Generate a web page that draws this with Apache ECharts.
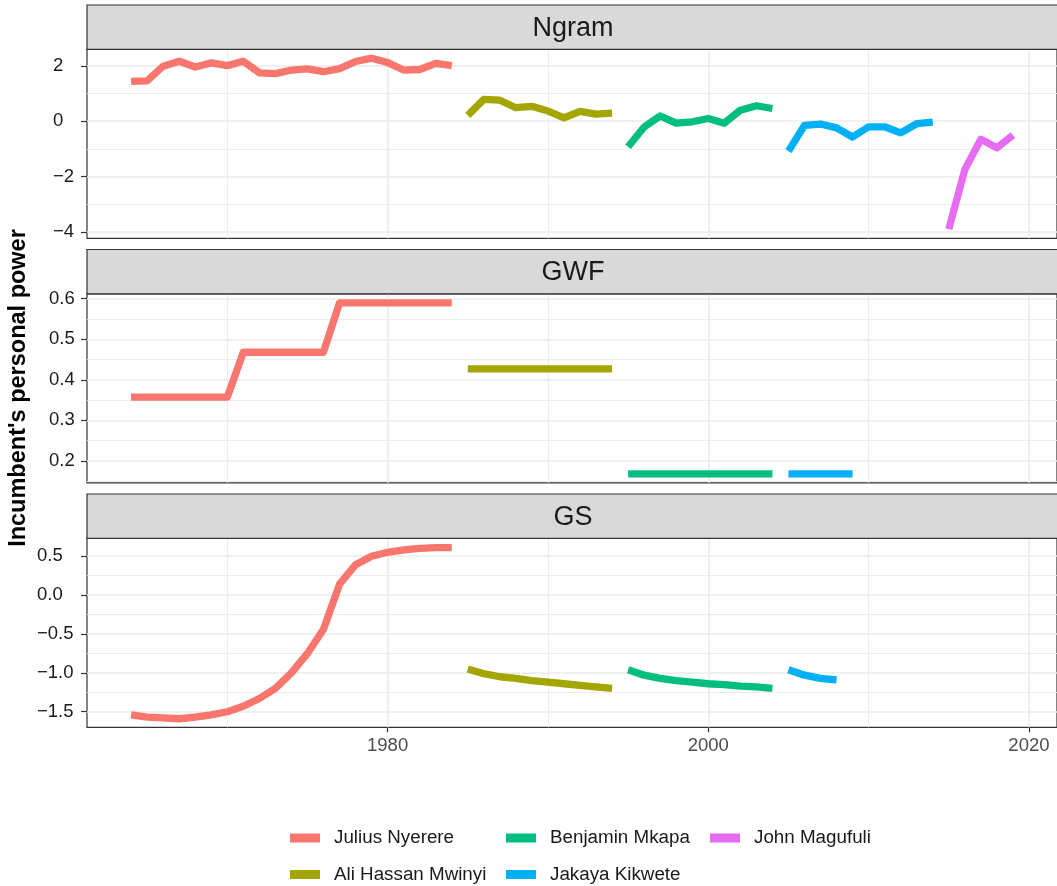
<!DOCTYPE html>
<html>
<head>
<meta charset="utf-8">
<script src="https://cdn.jsdelivr.net/npm/echarts@6/dist/echarts.min.js"></script>
<style>
  html, body { margin: 0; padding: 0; background: #ffffff; }
  #chart { width: 1057px; height: 886px; }
</style>
</head>
<body>
<div id="chart"></div>
<script>
// Presidents of Tanzania and their years in office
const presidents = ['Julius Nyerere', 'Ali Hassan Mwinyi', 'Benjamin Mkapa', 'Jakaya Kikwete', 'John Magufuli'];
const presidentColors = ['#F8766D', '#A3A500', '#00BF7D', '#00B0F6', '#E76BF3'];

const nyerereYears = [1964, 1965, 1966, 1967, 1968, 1969, 1970, 1971, 1972, 1973, 1974,
                      1975, 1976, 1977, 1978, 1979, 1980, 1981, 1982, 1983, 1984];
const mwinyiYears = [1985, 1986, 1987, 1988, 1989, 1990, 1991, 1992, 1993, 1994];
const mkapaYears = [1995, 1996, 1997, 1998, 1999, 2000, 2001, 2002, 2003, 2004];
const kikweteYears = [2005, 2006, 2007, 2008, 2009, 2010, 2011, 2012, 2013, 2014];
const magufuliYears = [2015, 2016, 2017, 2018, 2019];

// Ngram measure
const ngramNyerere = [1.44, 1.46, 1.99, 2.17, 1.96, 2.11, 2.01, 2.17, 1.75, 1.72, 1.85,
                      1.89, 1.79, 1.90, 2.16, 2.28, 2.12, 1.85, 1.87, 2.09, 2.01];
const ngramMwinyi = [0.21, 0.79, 0.76, 0.49, 0.54, 0.37, 0.12, 0.36, 0.26, 0.29];
const ngramMkapa = [-0.92, -0.21, 0.19, -0.07, -0.02, 0.10, -0.07, 0.40, 0.56, 0.46];
const ngramKikwete = [-1.08, -0.15, -0.10, -0.24, -0.57, -0.20, -0.20, -0.42, -0.09, -0.03];
const ngramMagufuli = [-3.90, -1.75, -0.65, -0.96, -0.50];

// GWF measure
const gwfNyerere = [0.357, 0.357, 0.357, 0.357, 0.357, 0.357, 0.357, 0.468, 0.468, 0.468, 0.468,
                    0.468, 0.468, 0.590, 0.590, 0.590, 0.590, 0.590, 0.590, 0.590, 0.590];
const gwfMwinyi = [0.427, 0.427, 0.427, 0.427, 0.427, 0.427, 0.427, 0.427, 0.427, 0.427];
const gwfMkapa = [0.168, 0.168, 0.168, 0.168, 0.168, 0.168, 0.168, 0.168, 0.168, 0.168];
const gwfKikwete = [0.168, 0.168, 0.168, 0.168, 0.168];

// GS measure
const gsNyerere = [-1.54, -1.57, -1.58, -1.59, -1.57, -1.54, -1.50, -1.43, -1.33, -1.20, -1.00,
                   -0.75, -0.44, 0.14, 0.39, 0.50, 0.55, 0.58, 0.60, 0.61, 0.61];
const gsMwinyi = [-0.95, -1.01, -1.05, -1.07, -1.10, -1.12, -1.14, -1.16, -1.18, -1.20];
const gsMkapa = [-0.96, -1.03, -1.07, -1.10, -1.12, -1.14, -1.15, -1.17, -1.18, -1.20];
const gsKikwete = [-0.96, -1.03, -1.07, -1.09];

// Axis breaks
const xMajor = [1980, 2000, 2020];
const xMinor = [1970, 1990, 2010];
const ngramTicks = [-4, -2, 0, 2];
const ngramMinor = [-3, -1, 1];
const gwfTicks = [0.2, 0.3, 0.4, 0.5, 0.6];
const gwfMinor = [0.15, 0.25, 0.35, 0.45, 0.55];
const gsTicks = [-1.5, -1.0, -0.5, 0.0, 0.5];
const gsMinor = [-1.25, -0.75, -0.25, 0.25];

const panelTitles = ['Ngram', 'GWF', 'GS'];

const years = [nyerereYears, mwinyiYears, mkapaYears, kikweteYears, magufuliYears];
const panels = [
  { title: panelTitles[0], values: [ngramNyerere, ngramMwinyi, ngramMkapa, ngramKikwete, ngramMagufuli],
    min: -4.23, max: 2.60, ticks: ngramTicks, minor: ngramMinor, decimals: 0, labelMargin: 34 },
  { title: panelTitles[1], values: [gwfNyerere, gwfMwinyi, gwfMkapa, gwfKikwete],
    min: 0.1458, max: 0.6122, ticks: gwfTicks, minor: gwfMinor, decimals: 1, labelMargin: 38 },
  { title: panelTitles[2], values: [gsNyerere, gsMwinyi, gsMkapa, gsKikwete],
    min: -1.70, max: 0.73, ticks: gsTicks, minor: gsMinor, decimals: 1, labelMargin: 50 }
];

// Panel geometry
const FONT = 'Liberation Sans, Arial, Helvetica, sans-serif';
const plotLeft = 87;
const plotWidth = 972;
const stripHeight = 44.3;
const plotHeight = 189;
const panelPitch = 244.5;
const firstTop = 5;
const xMin = 1961.25, xMax = 2021.75;

function fmt(v, d) {
  const s = Math.abs(v).toFixed(d);
  return (v < 0 ? '\u2212' : '') + s;
}

const grids = [], xAxes = [], yAxes = [], series = [], graphics = [];

panels.forEach((p, i) => {
  const stripTop = firstTop + i * panelPitch;
  const plotTop = stripTop + stripHeight;
  const isBottom = i === panels.length - 1;

  grids.push({
    left: plotLeft, top: plotTop, width: plotWidth, height: plotHeight,
    show: true, borderColor: '#333333', borderWidth: 1.2, backgroundColor: 'transparent'
  });

  xAxes.push({
    type: 'value', gridIndex: i, min: xMin, max: xMax, position: 'bottom',
    axisLine: { show: false, onZero: false },
    splitLine: { show: false },
    axisTick: { show: isBottom, customValues: xMajor, length: 5, lineStyle: { color: '#333333', width: 1.2 } },
    axisLabel: {
      show: isBottom, customValues: xMajor, margin: 9,
      color: '#4D4D4D', fontSize: 18.5, fontFamily: FONT,
      formatter: v => String(Math.round(v))
    }
  });

  yAxes.push({
    type: 'value', gridIndex: i, min: p.min, max: p.max, position: 'left',
    axisLine: { show: false, onZero: false },
    splitLine: { show: false },
    axisTick: { show: true, customValues: p.ticks, length: 6, lineStyle: { color: '#333333', width: 1.2 } },
    axisLabel: {
      show: true, customValues: p.ticks, margin: p.labelMargin, align: 'left',
      color: '#1A1A1A', fontSize: 18.5, fontFamily: FONT,
      formatter: v => fmt(v, p.decimals)
    }
  });

  // Background grid lines
  const major = { color: '#EBEBEB', width: 1.6, type: 'solid' };
  const minor = { color: '#EBEBEB', width: 0.9, type: 'solid' };
  series.push({
    type: 'line', name: 'gridlines', xAxisIndex: i, yAxisIndex: i, data: [],
    z: 1, silent: true, animation: false,
    markLine: {
      z: 1, silent: true, animation: false, symbol: ['none', 'none'],
      label: { show: false }, emphasis: { disabled: true },
      data: [
        ...xMinor.map(v => ({ xAxis: v, lineStyle: minor })),
        ...p.minor.map(v => ({ yAxis: v, lineStyle: minor })),
        ...xMajor.map(v => ({ xAxis: v, lineStyle: major })),
        ...p.ticks.map(v => ({ yAxis: v, lineStyle: major }))
      ]
    }
  });

  // One line per president
  p.values.forEach((vals, k) => {
    series.push({
      type: 'line', name: presidents[k], xAxisIndex: i, yAxisIndex: i,
      data: vals.map((v, j) => [years[k][j], v]),
      symbol: 'none', showSymbol: false, z: 3, animation: false,
      emphasis: { disabled: true },
      itemStyle: { color: presidentColors[k] },
      lineStyle: { color: presidentColors[k], width: 7.3, cap: 'butt', join: 'round' }
    });
  });

  // Facet strip
  graphics.push({
    type: 'rect', silent: true, z: 10,
    shape: { x: plotLeft, y: stripTop, width: plotWidth + 4, height: stripHeight },
    style: { fill: '#D9D9D9', stroke: '#333333', lineWidth: 1.2 }
  });
  graphics.push({
    type: 'text', silent: true, z: 11,
    x: plotLeft + plotWidth / 2, y: stripTop + stripHeight / 2 + 1,
    style: {
      text: p.title, fill: '#1A1A1A', fontSize: 27, fontFamily: FONT,
      align: 'center', verticalAlign: 'middle'
    }
  });
});

// Shared y-axis title
graphics.push({
  type: 'text', silent: true, z: 11,
  x: 19, y: 388, rotation: Math.PI / 2,
  style: {
    text: "Incumbent's personal power", fill: '#000000',
    fontSize: 23.5, fontWeight: 'bold', fontFamily: FONT,
    align: 'center', verticalAlign: 'middle'
  }
});

// Legend: two rows, filled column by column
const legendColumns = [290, 506, 710];
const legendRows = [827, 863.5];
const legends = presidents.map((name, k) => ({
  data: [name],
  left: legendColumns[Math.floor(k / 2)],
  top: legendRows[k % 2],
  padding: 0,
  orient: 'horizontal', icon: 'rect', itemWidth: 30, itemHeight: 9,
  itemStyle: { borderWidth: 0 },
  selectedMode: false,
  textStyle: { color: '#1A1A1A', fontSize: 18.8, fontFamily: FONT, lineHeight: 22, padding: [0, 0, 0, 9] }
}));

const option = {
  backgroundColor: '#ffffff',
  animation: false,
  grid: grids,
  xAxis: xAxes,
  yAxis: yAxes,
  series: series,
  graphic: graphics,
  legend: legends
};

const chart = echarts.init(document.getElementById('chart'), null, { renderer: 'canvas' });
chart.setOption(option);
</script>
</body>
</html>
